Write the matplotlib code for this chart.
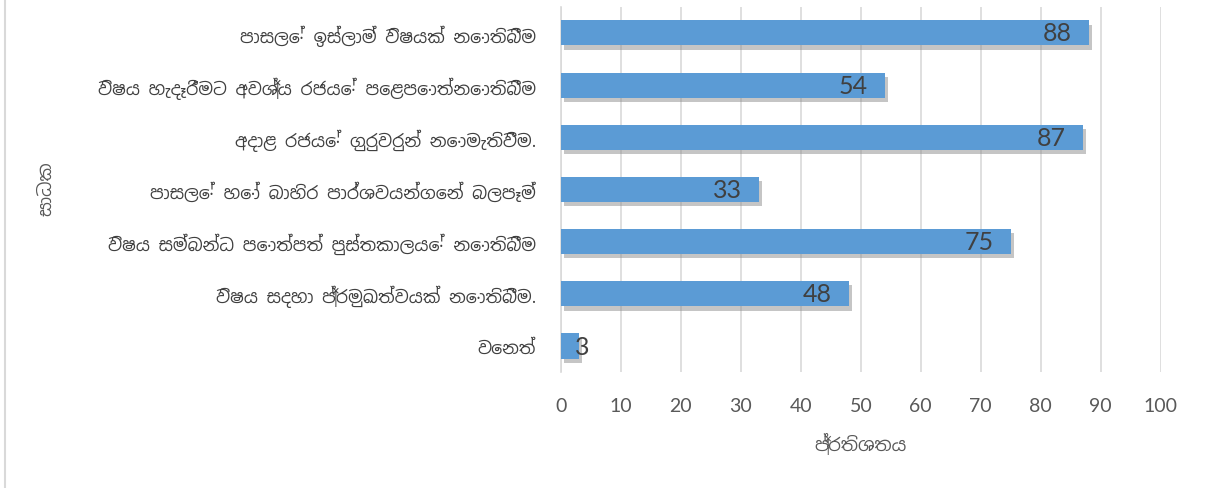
import matplotlib
matplotlib.use("Agg")
import matplotlib.pyplot as plt
import matplotlib.patheffects as pe
from matplotlib.lines import Line2D

# data, top to bottom as in the chart
categories = [
    "පාසලේ ඉස්ලාම් විෂයක් නොතිබීම",
    "විෂය හැදෑරීමට අවශ්‍ය රජයේ පෙළපොත්නොතිබීම",
    "අදාළ රජයේ ගුරුවරුන් නොමැතිවීම.",
    "පාසලේ හෝ බාහිර පාර්ශවයන්ගෙන් බලපෑම්",
    "විෂය සම්බන්ධ පොත්පත් පුස්තකාලයේ නොතිබීම",
    "විෂය සදහා ප්‍රමුඛත්වයක් නොතිබීම.",
    "වෙනත්",
]
values = [88, 54, 87, 33, 75, 48, 3]
x_ticks = [0, 10, 20, 30, 40, 50, 60, 70, 80, 90, 100]
x_label = "ප්‍රතිශතය"
y_label = "සාධක"

sinhala = ["Noto Sans Sinhala", "Lato", "DejaVu Sans"]
latin = ["Lato", "DejaVu Sans"]
bar_color = "#5B9BD5"
grid_color = "#D9D9D9"

fig = plt.figure(figsize=(12.09, 4.89), dpi=100)
ax = fig.add_axes([0.464, 0.237, 0.496, 0.747])

ypos = list(range(len(values)))
bars = ax.barh(ypos, values, height=0.48, color=bar_color, zorder=3)
for b in bars:
    b.set_path_effects([pe.SimplePatchShadow(offset=(2.5, -3), shadow_rgbFace="#8c8c8c", alpha=0.5),
                        pe.Normal()])

for y, v in zip(ypos, values):
    if v < 10:
        ax.text(v + 0.6, y, str(v), ha="center", va="center", fontsize=18,
                color="#404040", family=latin, zorder=4)
    else:
        ax.annotate(str(v), xy=(v, y), xytext=(-12, 0), textcoords="offset points",
                    ha="right", va="center", fontsize=18, color="#404040",
                    family=latin, zorder=4)

ax.set_xlim(0, 100)
ax.set_ylim(6.5, -0.5)
ax.set_xticks(x_ticks)
ax.set_xticklabels([str(t) for t in x_ticks], family=latin, fontsize=14, color="#595959")
ax.set_yticks(ypos)
ax.set_yticklabels(categories, family=sinhala, fontsize=12.5, color="#404040")
ax.tick_params(axis="both", length=0)
ax.tick_params(axis="x", pad=18)
ax.tick_params(axis="y", pad=18)

ax.grid(axis="x", color=grid_color, linewidth=1.2, zorder=0)
ax.grid(axis="y", visible=False)
for s in ["top", "right", "bottom"]:
    ax.spines[s].set_visible(False)
ax.spines["left"].set_color(grid_color)
ax.spines["left"].set_linewidth(1.2)

ax.set_xlabel(x_label, family=sinhala, fontsize=13, color="#595959", labelpad=13)
fig.text(0.038, 0.615, y_label, rotation=90, ha="center", va="center",
         family=sinhala, fontsize=13, color="#595959")

# light frame edge on the left
fig.add_artist(Line2D([0.004, 0.004], [0, 1], transform=fig.transFigure,
                      color="#D9D9D9", linewidth=1.5))

fig.savefig("out.png", dpi=100)
plt.close(fig)
